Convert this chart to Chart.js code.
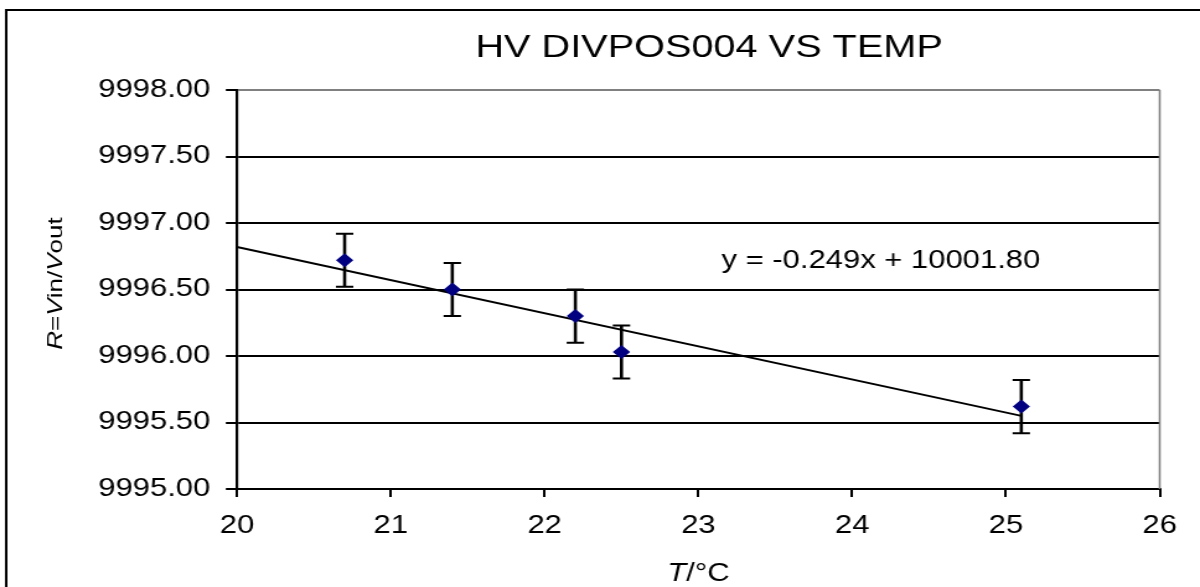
<!DOCTYPE html>
<html>
<head>
<meta charset="utf-8">
<script src="https://cdn.jsdelivr.net/npm/chart.js@4"></script>
<style>
  html, body { margin: 0; padding: 0; background: #fff; }
  #c { display: block; width: 1200px; height: 587px; }
</style>
</head>
<body>
<canvas id="c" width="968" height="587" style="width:1200px;height:587px;"></canvas>
<script>
// ---- data ----
const temps  = [20.7, 21.4, 22.2, 22.5, 25.1];            // T / °C
const ratios = [9996.72, 9996.50, 9996.30, 9996.03, 9995.62]; // R = Vin/Vout
const errors = [0.2, 0.2, 0.2, 0.2, 0.2];                  // error bar half-lengths
const trendX = [20, 25.1];                                  // trendline ends (x)
const trendY = [9996.82, 9995.55];                          // trendline ends (y)
const chartTitle = 'HV DIVPOS004 VS TEMP';
const equationText = 'y = -0.249x + 10001.80';
const xRange = [20, 26];
const yRange = [9995, 9998];

// ---- layout helpers (screen is stretched horizontally by SX) ----
const SX = 1200 / 968;
const FONT = '"Liberation Sans", Arial, sans-serif';

function drawRuns(ctx, runs, size) {
  let total = 0;
  runs.forEach(r => { ctx.font = (r.it ? 'italic ' : '') + size + 'px ' + FONT; total += ctx.measureText(r.t).width; });
  let x = -total / 2;
  ctx.textAlign = 'left';
  runs.forEach(r => {
    ctx.font = (r.it ? 'italic ' : '') + size + 'px ' + FONT;
    ctx.fillText(r.t, x, 0);
    x += ctx.measureText(r.t).width;
  });
}

const decor = {
  id: 'decor',
  beforeDatasetsDraw(chart) {
    const ctx = chart.ctx, xs = chart.scales.x, ys = chart.scales.y, a = chart.chartArea;
    ctx.save();
    // plot area right border (gray)
    ctx.strokeStyle = '#808080';
    ctx.lineWidth = 1.6;
    ctx.beginPath();
    ctx.moveTo(a.right, a.top);
    ctx.lineTo(a.right, a.bottom);
    ctx.stroke();
    // error bars
    ctx.strokeStyle = '#000';
    for (let i = 0; i < temps.length; i++) {
      const px = xs.getPixelForValue(temps[i]);
      const pt = ys.getPixelForValue(ratios[i] + errors[i]);
      const pb = ys.getPixelForValue(ratios[i] - errors[i]);
      ctx.lineWidth = 2.6;
      ctx.beginPath();
      ctx.moveTo(px, pt); ctx.lineTo(px, pb);
      ctx.stroke();
      ctx.lineWidth = 2;
      ctx.beginPath();
      ctx.moveTo(px - 7, pt); ctx.lineTo(px + 7, pt);
      ctx.moveTo(px - 7, pb); ctx.lineTo(px + 7, pb);
      ctx.stroke();
    }
    ctx.restore();
  },
  afterDraw(chart) {
    const ctx = chart.ctx, a = chart.chartArea;
    ctx.save();
    // outer frame
    ctx.strokeStyle = '#000';
    ctx.lineWidth = 2;
    ctx.strokeRect(5, 10, 3000, 3000);
    ctx.fillStyle = '#000';
    ctx.textBaseline = 'alphabetic';
    // title
    ctx.font = '32px ' + FONT;
    ctx.textAlign = 'center';
    ctx.fillText(chartTitle, 572, 56.5);
    // equation label
    ctx.font = '25px ' + FONT;
    ctx.textAlign = 'left';
    ctx.fillText(equationText, 582, 268);
    // x axis title  T/°C
    ctx.save();
    ctx.translate((a.left + a.right) / 2, 581);
    drawRuns(ctx, [{t: 'T', it: true}, {t: '/°C'}], 25);
    ctx.restore();
    // y axis title  R=Vin/Vout (rotated)
    ctx.save();
    ctx.translate(50.4, 283.5);
    ctx.scale(1 / SX, 1);
    ctx.rotate(-Math.PI / 2);
    ctx.scale(SX, 1);
    drawRuns(ctx, [{t: 'R', it: true}, {t: '='}, {t: 'V', it: true}, {t: 'in/'}, {t: 'V', it: true}, {t: 'out'}], 21);
    ctx.restore();
    ctx.restore();
  }
};

new Chart(document.getElementById('c'), {
  type: 'scatter',
  data: {
    datasets: [
      {
        label: 'data',
        data: temps.map((t, i) => ({x: t, y: ratios[i]})),
        pointStyle: 'rectRot',
        pointRadius: 7,
        pointHoverRadius: 7,
        backgroundColor: '#000080',
        borderColor: '#000080',
        borderWidth: 0,
        order: 1
      },
      {
        label: 'trend',
        type: 'line',
        data: trendX.map((t, i) => ({x: t, y: trendY[i]})),
        borderColor: '#000',
        borderWidth: 2,
        pointRadius: 0,
        fill: false,
        tension: 0,
        order: 2
      }
    ]
  },
  options: {
    responsive: false,
    devicePixelRatio: 1,
    animation: false,
    events: [],
    layout: { padding: { top: 90, right: 968 - 935.5, bottom: 0, left: 0 } },
    plugins: { legend: { display: false }, title: { display: false }, tooltip: { enabled: false } },
    scales: {
      x: {
        type: 'linear',
        min: xRange[0], max: xRange[1],
        afterFit(s) { s.height = 587 - 489; },
        ticks: { stepSize: 1, color: '#000', font: { family: FONT, size: 25 }, padding: 14, maxRotation: 0 },
        grid: { drawOnChartArea: false, drawTicks: true, tickLength: 8, tickColor: '#000', tickWidth: 2, color: '#000', lineWidth: 2 },
        border: { display: true, color: '#000', width: 2 }
      },
      y: {
        type: 'linear',
        min: yRange[0], max: yRange[1],
        afterFit(s) { s.width = 237 / SX; },
        ticks: { stepSize: 0.5, color: '#000', font: { family: FONT, size: 25 }, padding: 12.5,
                 callback: v => Number(v).toFixed(2) },
        grid: {
          color: c => (c.tick && c.tick.value === yRange[1]) ? '#808080' : '#000',
          lineWidth: 2, drawTicks: true, tickLength: 9, tickColor: '#000', tickWidth: 2
        },
        border: { display: true, color: '#000', width: 2.2 }
      }
    }
  },
  plugins: [decor]
});
</script>
</body>
</html>
